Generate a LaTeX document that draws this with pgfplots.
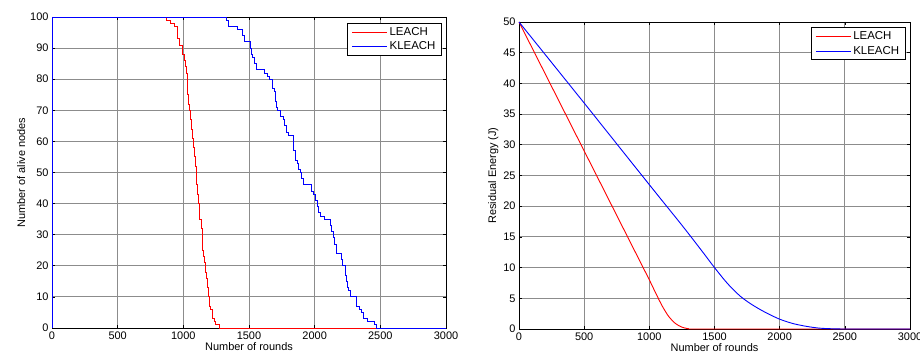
\documentclass[border=0pt]{standalone}
\usepackage{pgfplots}
\pgfplotsset{compat=1.18}
\usepackage{fontspec}
\setmainfont{Liberation Sans}
\definecolor{mred}{rgb}{1,0,0}
\definecolor{mblue}{rgb}{0,0,1}
\begin{document}
\begin{tikzpicture}
\pgfplotsset{
  every axis/.append style={
    scale only axis,
    clip=false,
    xmin=0, xmax=3000,
    xtick={0,500,...,3000},
    grid=major,
    grid style={black!45, line width=0.9bp},
    axis line style={black, line width=0.8bp},
    tick align=inside,
    major tick length=3bp,
    tick style={black, line width=0.6bp},
    /pgf/number format/assume math mode=true,
    /pgf/number format/1000 sep={},
    tick label style={font=\fontsize{11}{13}\selectfont},
    label style={font=\fontsize{11}{13}\selectfont},
    xlabel={Number of rounds},
    xlabel style={yshift=4bp},
    legend cell align=left,
    legend style={font=\fontsize{11.5}{14}\selectfont, draw=black, fill=white, line width=1.2bp,
      inner xsep=4bp, inner ysep=2bp, row sep=1bp},
    legend image code/.code={\draw[#1, line width=0.9bp] (0bp,0bp) -- (35bp,0bp);},
  }
}
\begin{axis}[
  at={(52bp,30bp)}, anchor=south west,
  width=394bp, height=311bp,
  ymin=0, ymax=100, ytick={0,10,...,100},
  ylabel={Number of alive nodes},
  ylabel style={yshift=-2bp},
  legend style={at={(0.99,0.981)}, anchor=north east},
]
\addplot[const plot, mred, line width=0.9bp] coordinates {
(0,0)(0,100)(870,99)(900,98)(930,97)(958,93)(970,91)(995,88)(1005,86)(1015,84)(1025,82)
(1030,79)(1035,75)(1040,72)(1050,70)(1055,67)(1062,64)(1070,61)(1078,58)(1085,55)
(1092,52)(1098,50)(1103,46)(1108,43)(1115,40)(1120,37)(1125,35)(1135,32)(1142,28)
(1148,25)(1155,23)(1162,21)(1170,18)(1178,16)(1185,13)(1190,10)(1198,7)(1205,6)
(1225,3)(1235,2)(1245,1)(1275,0)(3000,0)};
\addlegendentry{LEACH}
\addplot[const plot, mblue, line width=0.9bp] coordinates {
(0,0)(0,100)(1330,99)(1345,97)(1410,96)(1450,94)(1465,92)(1510,90)(1515,88)(1530,87)
(1545,85)(1560,83)(1620,82)(1640,81)(1655,80)(1680,77)(1690,76)(1700,73)(1707,71)
(1720,70)(1740,68)(1760,67)(1770,65)(1785,63)(1800,62)(1838,59)(1840,57)(1855,54)
(1870,53)(1880,51)(1890,50)(1900,48)(1915,46)(1975,44)(1990,43)(2005,41)(2020,39)
(2030,37)(2045,36)(2075,35)(2118,33)(2125,31)(2140,29)(2150,27)(2165,24)(2205,22)
(2210,20)(2235,17)(2242,15)(2250,13)(2260,12)(2275,10)(2315,9)(2320,7)(2340,6)
(2355,5)(2370,3)(2400,2)(2455,1)(2470,0)(3000,0)};
\addlegendentry{KLEACH}
\end{axis}
\begin{axis}[
  at={(519bp,29bp)}, anchor=south west,
  width=391bp, height=307bp,
  ymin=0, ymax=50, ytick={0,5,...,50},
  ylabel={Residual Energy (J)},
  ylabel style={yshift=-2bp},
  legend style={at={(0.989,0.983)}, anchor=north east},
]
\addplot[mred, line width=0.9bp, smooth] coordinates {
(0,50)(250,39.5)(500,29)(750,18.5)(900,12.2)(1000,8)(1050,5.8)(1100,3.7)(1150,2.0)
(1200,0.9)(1250,0.3)(1300,0.05)(1350,0)(2000,0)(3000,0)};
\addlegendentry{LEACH}
\addplot[mblue, line width=0.9bp, smooth] coordinates {
(0,50)(500,36.8)(1000,23.5)(1250,16.9)(1400,12.8)(1500,10)(1600,7.4)(1700,5.3)
(1800,3.8)(1900,2.6)(2000,1.6)(2100,0.9)(2200,0.45)(2300,0.15)(2400,0.04)(2500,0)(2700,0)(3000,0)};
\addlegendentry{KLEACH}
\end{axis}
\pgfresetboundingbox
\path[use as bounding box] (0bp,0bp) rectangle (920bp,358bp);
\end{tikzpicture}
\end{document}
